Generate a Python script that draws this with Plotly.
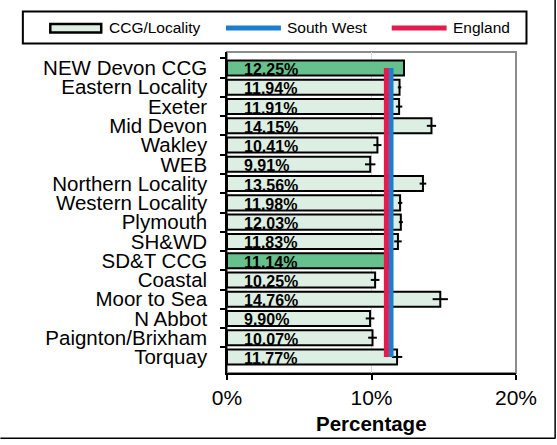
import plotly.graph_objects as go

# ---- data ----
categories = ["NEW Devon CCG", "Eastern Locality", "Exeter", "Mid Devon", "Wakley", "WEB",
              "Northern Locality", "Western Locality", "Plymouth", "SH&WD", "SD&T CCG",
              "Coastal", "Moor to Sea", "N Abbot", "Paignton/Brixham", "Torquay"]
values = [12.25, 11.94, 11.91, 14.15, 10.41, 9.91, 13.56, 11.98, 12.03, 11.83, 11.14,
          10.25, 14.76, 9.90, 10.07, 11.77]
errors = [0.0, 0.12, 0.22, 0.32, 0.28, 0.36, 0.23, 0.15, 0.14, 0.26, 0.0,
          0.30, 0.53, 0.30, 0.30, 0.36]
highlight = ["NEW Devon CCG", "SD&T CCG"]
south_west = 11.35
england = 11.03
x_ticks = [0, 10, 20]
x_tick_labels = ["0%", "10%", "20%"]

# ---- geometry ----
W, H = 557, 445
L, R, T, B = 227, 40.5, 52, 72
PW = W - L - R
PH = H - T - B


def px_x(px):
    return (px - L) / PW


def px_y(py):
    return (H - B - py) / PH


FONT = "Arial, Liberation Sans, sans-serif"
LIGHT = "#ddefe2"
DARK = "#66c18c"
BLUE = "#1b7fcf"
RED = "#e51a4f"

colors = [DARK if c in highlight else LIGHT for c in categories]

fig = go.Figure()
fig.add_trace(go.Bar(
    x=values, y=categories, orientation="h", width=0.78,
    marker=dict(color=colors, line=dict(color="black", width=2)),
    error_x=dict(type="data", array=errors, color="black", thickness=2, width=0),
    name="CCG/Locality", showlegend=False, hoverinfo="x+y",
))
fig.add_trace(go.Scatter(
    x=[south_west] * len(categories), y=categories, mode="lines",
    line=dict(color=BLUE, width=5), name="South West", showlegend=False,
))
fig.add_trace(go.Scatter(
    x=[england] * len(categories), y=categories, mode="lines",
    line=dict(color=RED, width=5), name="England", showlegend=False,
))

annotations = []
for c, v in zip(categories, values):
    annotations.append(dict(
        x=0, y=c, xref="x", yref="y", text=f"<b>{v:.2f}%</b>", showarrow=False,
        xanchor="left", yanchor="middle", xshift=15, yshift=-1.5,
        font=dict(family=FONT, size=16, color="black"),
    ))

# legend (manual, Excel style)
leg_y = px_y(28)
legend_items = [
    ("rect", LIGHT, 50, 101, "CCG/Locality", 107),
    ("line", BLUE, 226, 281, "South West", 285),
    ("line", RED, 392, 447, "England", 451),
]
shapes = []
shapes.append(dict(type="rect", xref="paper", yref="paper",
                   x0=px_x(22.5), x1=px_x(527), y0=px_y(11.5), y1=px_y(43.5),
                   line=dict(color="black", width=2), fillcolor="white", layer="above"))
for kind, col, x0, x1, label, tx in legend_items:
    if kind == "rect":
        shapes.append(dict(type="rect", xref="paper", yref="paper",
                           x0=px_x(x0), x1=px_x(x1), y0=px_y(32.5), y1=px_y(24),
                           line=dict(color="black", width=2.5), fillcolor=col, layer="above"))
    else:
        shapes.append(dict(type="line", xref="paper", yref="paper",
                           x0=px_x(x0), x1=px_x(x1), y0=leg_y, y1=leg_y,
                           line=dict(color=col, width=5), layer="above"))
    annotations.append(dict(x=px_x(tx), y=leg_y, xref="paper", yref="paper", text=label,
                            showarrow=False, xanchor="left", yanchor="middle",
                            font=dict(family=FONT, size=15.5, color="black")))

# plot area border (grey, Excel style)
shapes.append(dict(type="rect", xref="paper", yref="paper", x0=0, x1=1, y0=0, y1=1,
                   line=dict(color="#8c8c8c", width=2), layer="below"))
# outer chart border (right and bottom edges visible)
shapes.append(dict(type="line", xref="paper", yref="paper",
                   x0=px_x(0), x1=px_x(556), y0=px_y(438.3), y1=px_y(438.3),
                   line=dict(color="black", width=1.5)))
shapes.append(dict(type="line", xref="paper", yref="paper",
                   x0=px_x(555.7), x1=px_x(555.7), y0=px_y(0), y1=px_y(438.3),
                   line=dict(color="black", width=1.5)))

# x-axis title as annotation for exact placement
annotations.append(dict(x=0.5, y=px_y(423), xref="paper", yref="paper",
                        text="<b>Percentage</b>", showarrow=False,
                        xanchor="center", yanchor="middle",
                        font=dict(family=FONT, size=20.5, color="black")))

fig.update_layout(
    width=W, height=H,
    margin=dict(l=L, r=R, t=T, b=B, pad=0, autoexpand=False),
    paper_bgcolor="white", plot_bgcolor="white",
    font=dict(family=FONT, color="black"),
    showlegend=False,
    shapes=shapes,
    annotations=annotations,
)
fig.update_xaxes(
    range=[0, 20], tickmode="array", tickvals=x_ticks, ticktext=x_tick_labels,
    showgrid=True, gridcolor="#d9d9d9", gridwidth=1, zeroline=False,
    showline=True, linecolor="black", linewidth=1.5,
    ticks="outside", ticklen=5, tickwidth=1.5, tickcolor="black",
    tickfont=dict(family=FONT, size=21, color="black"),
    automargin=False,
)
fig.update_yaxes(
    autorange="reversed", type="category",
    tickmode="linear", dtick=1,
    showline=True, linecolor="black", linewidth=1.5,
    ticks="outside", ticklen=5, tickwidth=1.5, tickcolor="black", tickson="boundaries",
    tickfont=dict(family=FONT, size=20.5, color="black"),
    ticklabelstandoff=14,
    showgrid=False, zeroline=False, automargin=False,
)

fig.write_html("out.html", config={"displayModeBar": False},
               post_script="document.body.style.margin='0px';document.body.style.overflow='hidden';")
